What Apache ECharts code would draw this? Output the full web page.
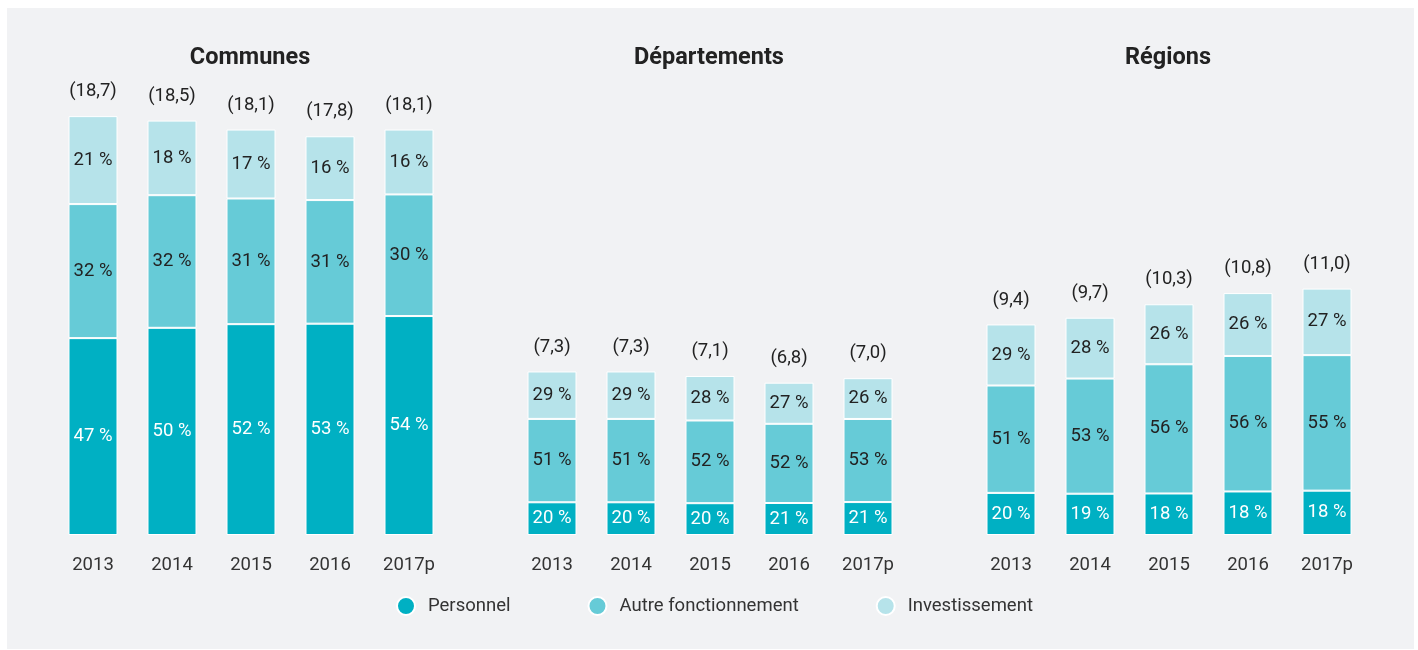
<!DOCTYPE html>
<html>
<head>
<meta charset="utf-8">
<script src="https://cdn.jsdelivr.net/npm/echarts@6/dist/echarts.min.js"></script>
<style>
  html, body { margin: 0; padding: 0; background: #fff; }
  #chart { width: 1418px; height: 650px; }
</style>
</head>
<body>
<div id="chart"></div>
<script>
// années
var years = ["2013", "2014", "2015", "2016", "2017p"];
var groups = ["Communes", "Départements", "Régions"];
var seriesNames = ["Personnel", "Autre fonctionnement", "Investissement"];

// totaux (en Md€)
var totCommunes = [18.7, 18.5, 18.1, 17.8, 18.1];
var totDepartements = [7.3, 7.3, 7.1, 6.8, 7.0];
var totRegions = [9.4, 9.7, 10.3, 10.8, 11.0];

// parts en %
var persCommunes = [47, 50, 52, 53, 54];
var autreCommunes = [32, 32, 31, 31, 30];
var investCommunes = [21, 18, 17, 16, 16];

var persDepartements = [20, 20, 20, 21, 21];
var autreDepartements = [51, 51, 52, 52, 53];
var investDepartements = [29, 29, 28, 27, 26];

var persRegions = [20, 19, 18, 18, 18];
var autreRegions = [51, 53, 56, 56, 55];
var investRegions = [29, 28, 26, 26, 27];

var colors = ["#00b0c3", "#66cbd7", "#b6e3ea"];
var labelColors = ["#fff", "#222", "#222"];

var totals = [totCommunes, totDepartements, totRegions];
var shares = [
  [persCommunes, autreCommunes, investCommunes],
  [persDepartements, autreDepartements, investDepartements],
  [persRegions, autreRegions, investRegions]
];

var gridLefts = [53.5, 512.5, 971.5];
var gridW = 395;
var fs = 18.5;

var grids = [], xAxes = [], yAxes = [], titles = [], series = [];

groups.forEach(function (g, gi) {
  grids.push({ left: gridLefts[gi], width: gridW, top: 87, bottom: 115 });
  xAxes.push({
    type: "category", gridIndex: gi, data: years,
    axisLine: { show: false }, axisTick: { show: false },
    axisLabel: { color: "#333", fontSize: fs, fontFamily: "Roboto", margin: 21 }
  });
  yAxes.push({ type: "value", gridIndex: gi, min: 0, max: 20, show: false, splitLine: { show: false } });
  titles.push({
    text: g, left: gridLefts[gi] + gridW / 2 - 6, top: 41, textAlign: "center",
    textStyle: { fontSize: 23.5, fontWeight: "bold", color: "#222", fontFamily: "Roboto" }
  });

  seriesNames.forEach(function (name, si) {
    var pct = shares[gi][si];
    series.push({
      name: name, type: "bar", stack: "s" + gi,
      xAxisIndex: gi, yAxisIndex: gi, barWidth: 49,
      itemStyle: { color: colors[si], borderColor: "#fff", borderWidth: 1 },
      label: {
        show: true, position: "inside", color: labelColors[si],
        fontSize: fs, fontFamily: "Roboto",
        formatter: function (p) { return pct[p.dataIndex] + " %"; }
      },
      emphasis: { disabled: true },
      data: totals[gi].map(function (t, i) { return t * pct[i] / 100; })
    });
  });

  // étiquette du total au-dessus de la barre
  series.push({
    name: "total" + gi, type: "bar", stack: "s" + gi,
    xAxisIndex: gi, yAxisIndex: gi, barWidth: 49,
    itemStyle: { color: "transparent" },
    label: {
      show: true, position: "top", distance: 15, color: "#222",
      fontSize: fs, fontFamily: "Roboto",
      formatter: function (p) { return "(" + totals[gi][p.dataIndex].toFixed(1).replace(".", ",") + ")"; }
    },
    emphasis: { disabled: true },
    data: totals[gi].map(function () { return 0; })
  });
});

var myChart = echarts.init(document.getElementById("chart"));
myChart.setOption({
  animation: false,
  backgroundColor: "#fff",
  color: colors,
  graphic: [{
    type: "rect", z: -10, silent: true,
    shape: { x: 7, y: 8, width: 1407, height: 641 },
    style: { fill: "#f1f2f4" }
  }],
  title: titles,
  legend: {
    data: seriesNames, left: 391, top: 591,
    icon: "circle", itemWidth: 18, itemHeight: 22, itemGap: 77,
    textStyle: { fontSize: fs, color: "#333", fontFamily: "Roboto", padding: [0, 0, 0, 8] },
    selectedMode: false
  },
  grid: grids,
  xAxis: xAxes,
  yAxis: yAxes,
  series: series
});
</script>
</body>
</html>
